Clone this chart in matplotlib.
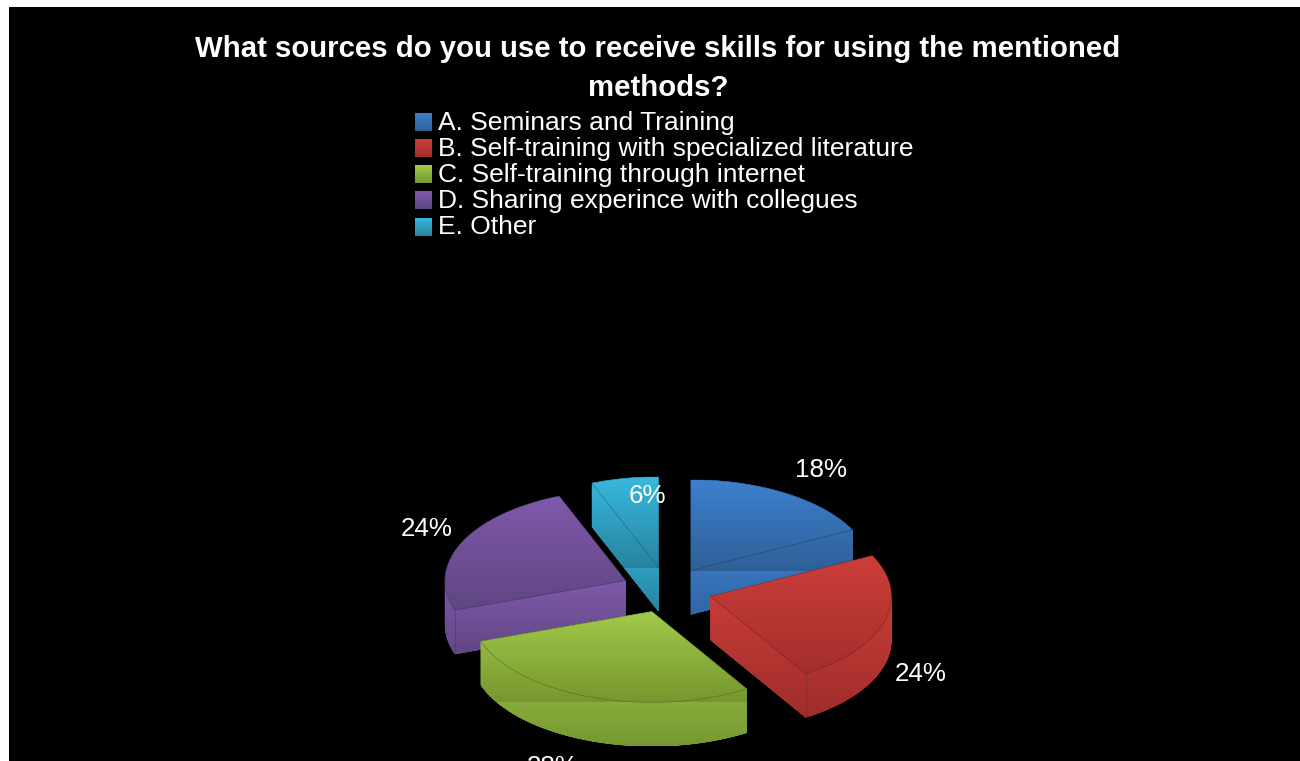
import numpy as np
import matplotlib
matplotlib.use("Agg")
import matplotlib.pyplot as plt
from matplotlib.path import Path
from matplotlib.colors import to_rgb

plt.rcParams['font.family'] = ['Liberation Sans', 'DejaVu Sans']

# --- data -------------------------------------------------------------
title_lines = ["What sources do you use to receive skills for using the mentioned", "methods?"]
categories = ["A. Seminars and Training",
              "B. Self-training with specialized literature",
              "C. Self-training through internet",
              "D. Sharing experince with collegues",
              "E. Other"]
values = [17.6, 23.6, 28.5, 24.3, 6.0]

# --- style ------------------------------------------------------------
top_colors = [("#3E80CE", "#2F5F98"), ("#CD3E3A", "#A32E2B"), ("#A2CA4A", "#76972F"),
              ("#8059AC", "#5F4682"), ("#38B8DD", "#27839F")]
side_colors = [("#3873BC", "#3267A8"), ("#C83C38", "#9F2D2A"), ("#86AC3C", "#76982F"),
               ("#7F59AA", "#614784"), ("#2F9DBE", "#27839F")]
split_face = [False, True, False, True, False]
label_xy = [(821, 477), (921, 681), (553, 774), (427, 536), (647, 503)]
swatch_y = [113, 139, 165, 191, 218]
legend_base = [130, 156, 182, 208, 234]
CX, CY, RX, RY, DEPTH, EXPLODE = 667, 590, 181, 91, 44, 0.25

fig = plt.figure(figsize=(13, 7.61), dpi=100, facecolor="white")
ax = fig.add_axes([9 / 1300, 0, 1291 / 1300, 754 / 761], facecolor="black")
ax.set_axis_off()
ax.add_patch(plt.Rectangle((9, 7), 1291, 754, color="black", zorder=0))
ax.set_autoscale_on(False)
ax.set_xlim(9, 1300)
ax.set_ylim(761, 7)


def gradient(path, x0, x1, y0, y1, c0, c1, zorder):
    t = np.linspace(0, 1, 256)[:, None, None]
    a, b = np.array(to_rgb(c0)), np.array(to_rgb(c1))
    img = (a + (b - a) * t) * np.ones((256, 2, 3))
    im = ax.imshow(img, extent=(x0, x1, y1, y0), origin="upper", aspect="auto",
                   interpolation="bilinear", zorder=zorder)
    im.set_clip_path(path, ax.transData)


def area(p):
    x, y = p[:, 0], p[:, 1]
    return 0.5 * np.sum(x * np.roll(y, -1) - np.roll(x, -1) * y)


def oriented(p):
    return p if area(p) > 0 else p[::-1]


def compound(polys):
    verts, codes = [], []
    for p in polys:
        p = oriented(np.asarray(p))
        verts += list(p) + [p[0]]
        codes += [Path.MOVETO] + [Path.LINETO] * (len(p) - 1) + [Path.CLOSEPOLY]
    return Path(np.array(verts), codes)


total = sum(values)
start = 0.0
slices = []
for i, v in enumerate(values):
    a0, a1 = start, start + 360.0 * v / total
    start = a1
    mid = np.radians((a0 + a1) / 2)
    ax_ = CX + EXPLODE * RX * np.sin(mid)
    ay_ = CY - EXPLODE * RY * np.cos(mid)
    th = np.radians(np.linspace(a0, a1, 90))
    arc = np.column_stack([ax_ + RX * np.sin(th), ay_ - RY * np.cos(th)])
    top = np.vstack([[ax_, ay_], arc])
    down = np.array([0, DEPTH])
    sweep = [top, top + down]
    for k in range(len(top)):
        p, q = top[k], top[(k + 1) % len(top)]
        sweep.append(np.array([p, q, q + down, p + down]))
    sil = compound(sweep)
    slices.append((i, ax_, ay_, arc, top, sil, a0, a1))

# back-to-front drawing order
draw_order = [0, 4, 3, 1, 2]
for i, ax_, ay_, arc, top, sil, a0, a1 in [slices[k] for k in draw_order]:
    xmin, xmax = top[:, 0].min() - 2, top[:, 0].max() + 2
    ytop, ybreak = top[:, 1].min(), top[:, 1].max()
    ybot = ybreak + DEPTH
    zo = 2 + 0.1 * draw_order.index(i)
    if split_face[i]:
        y_side = ay_
        top_path = compound([top])
    else:
        y_side = ybreak
        top_path = sil
    gradient(sil, xmin, xmax, y_side, ybot, *side_colors[i], zo)
    gradient(top_path, xmin, xmax, ytop, ybreak, *top_colors[i], zo + 0.01)
    dark = tuple(0.55 * c for c in to_rgb(top_colors[i][1]))
    ax.plot(np.append(top[:, 0], top[0, 0]), np.append(top[:, 1], top[0, 1]),
            color=dark, lw=0.45, alpha=0.6, zorder=zo + 0.02, solid_joinstyle="round")
    if split_face[i]:
        e = arc[-1] if i == 1 else arc[0]
        ax.plot([e[0], e[0]], [e[1], e[1] + DEPTH], color=dark, lw=0.45, alpha=0.5, zorder=zo + 0.02)

# percentage labels
for v, (x, y) in zip(values, label_xy):
    ax.text(x, y, f"{v:.0f}%", color="white", fontsize=18.7, ha="center", va="baseline", zorder=5, clip_on=False)

# title
for line, y in zip(title_lines, (57, 96)):
    ax.text(658, y, line, color="white", fontsize=21.2, fontweight="bold", ha="center", va="baseline")

# legend
for i, name in enumerate(categories):
    y = swatch_y[i]
    box = Path([(415, y), (432, y), (432, y + 18), (415, y + 18), (415, y)])
    gradient(box, 415, 432, y, y + 18, top_colors[i][0], top_colors[i][1], 3)
    ax.text(438, legend_base[i], name, color="white", fontsize=19.0, ha="left", va="baseline")

ax.set_xlim(9, 1300)
ax.set_ylim(761, 7)
fig.savefig("out.png", dpi=100, facecolor="white")
